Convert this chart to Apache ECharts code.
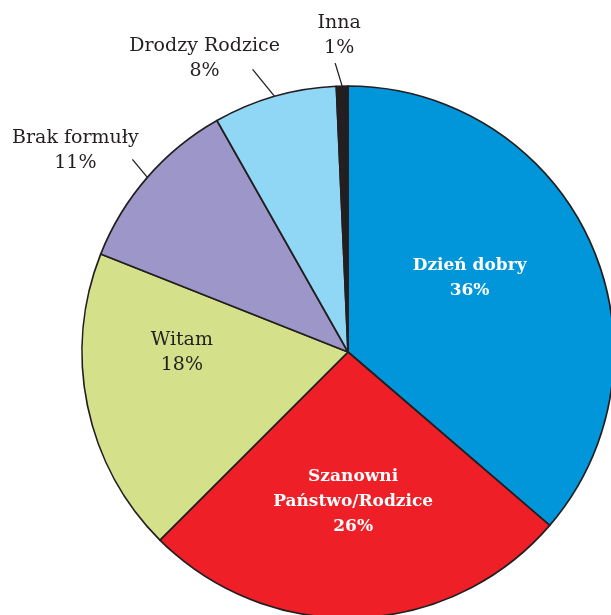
<!DOCTYPE html>
<html>
<head>
<meta charset="utf-8">
<script src="https://cdn.jsdelivr.net/npm/echarts@6/dist/echarts.min.js"></script>
<style>
html, body { margin: 0; padding: 0; background: #fff; }
#chart { width: 611px; height: 615px; }
</style>
</head>
<body>
<div id="chart"></div>
<script>
// slices clockwise from the top
var names = ['Dzień dobry', 'Szanowni\nPaństwo/Rodzice', 'Witam', 'Brak formuły', 'Drodzy Rodzice', 'Inna'];
var values = [36.3, 26.2, 18.5, 10.8, 7.5, 0.7];
var shownPct = ['36%', '26%', '18%', '11%', '8%', '1%'];
var colors = ['#0096d9', '#ee1f26', '#d4e18a', '#9d96c8', '#90d7f5', '#231f20'];

// leader line vectors and label shifts for the outside labels
var legs = { 3: [-15, -18], 4: [-22, -27], 5: [-7, -23] };
var shifts = { 3: [-57, -9], 4: [-48, -11], 5: [4, -28] };

var insideLabels = {
    0: { color: '#fff', fontWeight: 'bold', fontSize: 17, offset: [-2, -17] },
    1: { color: '#fff', fontWeight: 'bold', fontSize: 17, offset: [0, 14] },
    2: { color: '#231f20', fontWeight: 'normal', fontSize: 19, offset: [-33, -27] }
};

var data = [];
for (var i = 0; i < names.length; i++) {
    var item = {
        name: names[i],
        value: values[i],
        itemStyle: { color: colors[i] }
    };
    if (insideLabels[i]) {
        item.label = {
            position: 'inside',
            color: insideLabels[i].color,
            fontWeight: insideLabels[i].fontWeight,
            fontSize: insideLabels[i].fontSize,
            offset: insideLabels[i].offset
        };
        item.labelLine = { show: false };
    }
    data.push(item);
}

var chart = echarts.init(document.getElementById('chart'));
var option = {
    animation: false,
    series: [{
        type: 'pie',
        center: [348, 352],
        radius: 266,
        startAngle: 90,
        clockwise: true,
        data: data,
        itemStyle: {
            borderColor: '#231f20',
            borderWidth: 1.7
        },
        label: {
            show: true,
            position: 'outside',
            overflow: 'none',
            fontFamily: 'DejaVu Serif',
            fontSize: 19,
            lineHeight: 25,
            color: '#231f20',
            align: 'center',
            formatter: function (p) {
                return p.name + '\n' + shownPct[p.dataIndex];
            }
        },
        labelLine: {
            show: true,
            length: 20,
            length2: 0,
            lineStyle: { color: '#231f20', width: 1.3 }
        },
        labelLayout: function (params) {
            var k = params.dataIndex;
            if (!legs[k] || !params.labelLinePoints) {
                return {};
            }
            var p0 = params.labelLinePoints[0];
            var p1 = [p0[0] + legs[k][0], p0[1] + legs[k][1]];
            return {
                x: p1[0] + shifts[k][0],
                y: p1[1] + shifts[k][1],
                align: 'center',
                verticalAlign: 'middle',
                width: 200,
                labelLinePoints: [p0, p1, p1]
            };
        }
    }]
};
chart.setOption(option);
window.addEventListener('resize', function () {
    chart.resize();
});
</script>
</body>
</html>
